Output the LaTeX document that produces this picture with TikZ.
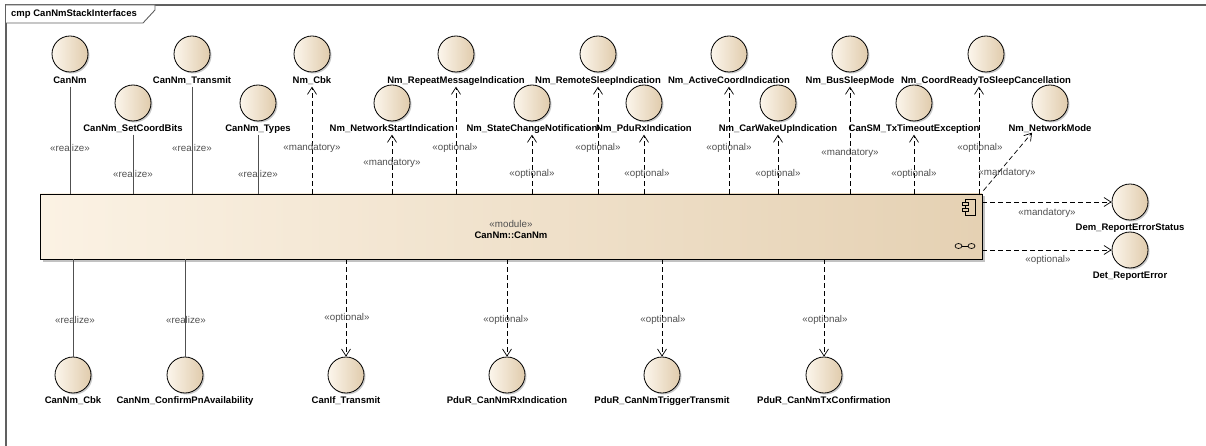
\documentclass[tikz,border=0pt]{standalone}
\usepackage{fontspec}
\setmainfont{Liberation Sans}
\usetikzlibrary{arrows.meta,shadows,calc}
\definecolor{frm}{HTML}{606060}
\definecolor{ifl}{HTML}{FCF6EC}
\definecolor{ifr}{HTML}{E0CBAC}
\definecolor{mdl}{HTML}{FBF2E4}
\definecolor{mdr}{HTML}{E5D1B3}
\definecolor{stc}{HTML}{505050}
\definecolor{lnc}{HTML}{505050}
\begin{document}
\begin{tikzpicture}[x=1pt,y=-1pt,
  iface/.style={circle,draw=black,line width=0.8pt,minimum size=36pt,inner sep=0pt,
    left color=ifl,right color=ifr,
    drop shadow={shadow xshift=1.5pt,shadow yshift=-1.5pt,opacity=0.35,fill=black!60}},
  lbl/.style={font=\fontsize{9.5}{11}\selectfont\bfseries,inner sep=1pt,text height=7pt,text depth=2pt},
  st/.style={font=\fontsize{9.8}{11}\selectfont,text=stc,inner sep=0pt},
  real/.style={draw=lnc,line width=0.8pt},
  dep/.style={draw=black,line width=0.7pt,dash pattern=on 5pt off 3pt,
    -{Straight Barb[length=7pt,width=9pt,line width=0.7pt]}},
]
\useasboundingbox (0,0) rectangle (1206,446);
% frame
\draw[frm,line width=1.3pt] (6,446) -- (6,5) -- (1206,5);
\draw[frm,line width=0.9pt,fill=white] (6,5) -- (155,5) -- (155,10) -- (143,23) -- (6,23);
\node[lbl,anchor=west] (title) at (10,14) {cmp CanNmStackInterfaces};

% module
\node[draw=black,line width=0.9pt,minimum width=942pt,minimum height=65pt,inner sep=0pt,
  left color=mdl,right color=mdr,
  drop shadow={shadow xshift=2.5pt,shadow yshift=-2.5pt,opacity=0.4,fill=black!60}]
  (mod) at (511,226.5) {};
\node[st] (modst) at (511,224) {«module»};
\node[lbl] (modname) at (511,236) {CanNm::CanNm};
% component icon
\draw[black,line width=0.6pt,fill=mdr] (965,199) rectangle (975,215);
\draw[black,line width=0.6pt,fill=mdr] (962,202) rectangle (968,205);
\draw[black,line width=0.6pt,fill=mdr] (962,208) rectangle (968,211);
% ball and socket icon
\draw[black,line width=0.7pt] (962,246) -- (968,246);
\draw[black,line width=0.7pt] (958.5,246) ellipse (3.5 and 2.5);
\draw[black,line width=0.7pt] (971.5,246) ellipse (3.5 and 2.5);

% top row 1
\foreach \n/\x/\t in {CanNm/70/CanNm, Transmit/192/CanNm\_Transmit, Cbk/312/Nm\_Cbk,
  Repeat/456/Nm\_RepeatMessageIndication, Remote/598/Nm\_RemoteSleepIndication,
  Active/729/Nm\_ActiveCoordIndication, BusSleep/850/Nm\_BusSleepMode,
  CoordReady/986/Nm\_CoordReadyToSleepCancellation}{
  \node[iface] (c\n) at (\x,54) {};
  \node[lbl] (l\n) at (\x,81) {\t};
}
% top row 2
\foreach \n/\x/\t in {SetCoord/133/CanNm\_SetCoordBits, Types/258/CanNm\_Types,
  NetStart/392/Nm\_NetworkStartIndication, StateChange/532/Nm\_StateChangeNotification,
  PduRx/644/Nm\_PduRxIndication, CarWake/778/Nm\_CarWakeUpIndication,
  TxTimeout/914/CanSM\_TxTimeoutException, NetMode/1050/Nm\_NetworkMode}{
  \node[iface] (c\n) at (\x,103) {};
  \node[lbl] (l\n) at (\x,129) {\t};
}
% bottom row
\foreach \n/\x/\t in {CCbk/73/CanNm\_Cbk, Confirm/185/CanNm\_ConfirmPnAvailability,
  IfTx/346/CanIf\_Transmit, RxInd/507/PduR\_CanNmRxIndication,
  Trigger/662/PduR\_CanNmTriggerTransmit, TxConf/824/PduR\_CanNmTxConfirmation}{
  \node[iface] (c\n) at (\x,375) {};
  \node[lbl] (l\n) at (\x,401) {\t};
}
% right side
\node[iface] (cDem) at (1130,202) {};
\node[lbl] (lDem) at (1130,228) {Dem\_ReportErrorStatus};
\node[iface] (cDet) at (1130,250) {};
\node[lbl] (lDet) at (1130,276) {Det\_ReportError};

% realize connectors (top)
\foreach \n in {CanNm,Transmit,SetCoord,Types}{
  \draw[real] (l\n.south) -- (l\n.south |- mod.north);
}
% dependency connectors (top)
\foreach \n in {Cbk,Repeat,Remote,Active,BusSleep,NetStart,StateChange,PduRx,CarWake,TxTimeout}{
  \draw[dep] (l\n.south |- mod.north) -- (l\n.south);
}
\coordinate (crT) at ([xshift=-7pt]lCoordReady.south);
\draw[dep] (crT |- mod.north) -- (crT);
\coordinate (nmS) at ([xshift=1pt,yshift=3pt]mod.north east);
\coordinate (nmT) at ([xshift=-18pt,yshift=2pt]lNetMode.south);
\draw[dep] (nmS) -- (nmT);
% bottom connectors
\foreach \n in {CCbk,Confirm}{
  \draw[real] (c\n.north |- mod.south) -- (c\n.north);
}
\foreach \n in {IfTx,RxInd,Trigger,TxConf}{
  \draw[dep] (c\n.north |- mod.south) -- (c\n.north);
}
% right connectors
\draw[dep] (mod.east |- cDem.west) -- (cDem.west);
\draw[dep] (mod.east |- cDet.west) -- (cDet.west);

% stereotype labels
\node[st] (sCanNm) at (70,148) {«realize»};
\node[st] (sSetCoord) at (133,174) {«realize»};
\node[st] (sTransmit) at (192,148) {«realize»};
\node[st] (sTypes) at (258,174) {«realize»};
\node[st] (sCbk) at (312,148) {«mandatory»};
\node[st] (sNetStart) at (392,163) {«mandatory»};
\node[st] (sRepeat) at (455,148) {«optional»};
\node[st] (sStateChange) at (532,174) {«optional»};
\node[st] (sRemote) at (598,148) {«optional»};
\node[st] (sPduRx) at (647,174) {«optional»};
\node[st] (sActive) at (729,148) {«optional»};
\node[st] (sCarWake) at (778,174) {«optional»};
\node[st] (sBusSleep) at (850,153) {«mandatory»};
\node[st] (sTxTimeout) at (914,174) {«optional»};
\node[st] (sCoordReady) at (980,148) {«optional»};
\node[st] (sNetMode) at (1007,173) {«mandatory»};
\node[st] (sDem) at (1047,213) {«mandatory»};
\node[st] (sDet) at (1048,260) {«optional»};
\node[st] (sCCbk) at (75,320) {«realize»};
\node[st] (sConfirm) at (186,320) {«realize»};
\node[st] (sIfTx) at (347,318) {«optional»};
\node[st] (sRxInd) at (506,320) {«optional»};
\node[st] (sTrigger) at (663,320) {«optional»};
\node[st] (sTxConf) at (825,320) {«optional»};
\end{tikzpicture}
\end{document}
